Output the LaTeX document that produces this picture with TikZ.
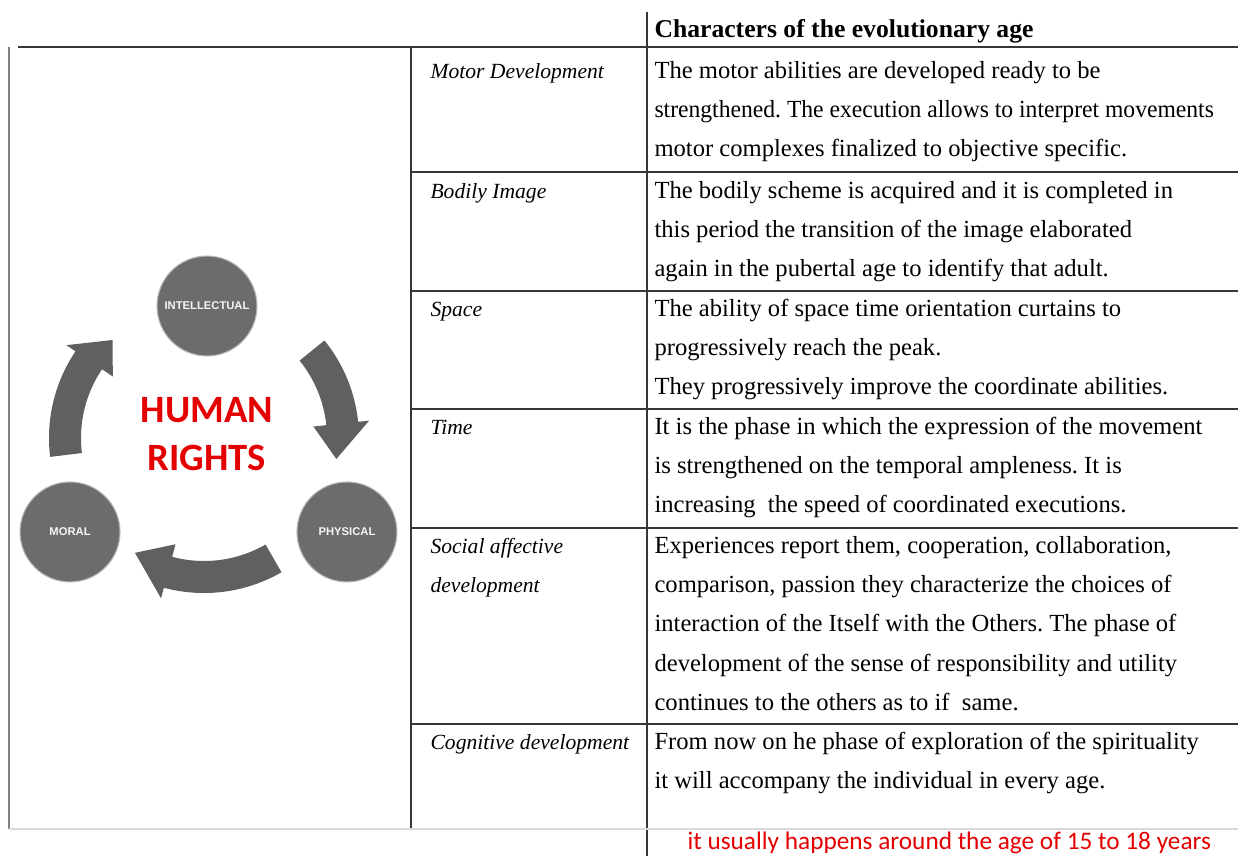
\documentclass[tikz,border=0pt]{standalone}
\usepackage{fontspec}
\setmainfont{Liberation Serif}
\newfontfamily\calibrifont{Carlito}
\newfontfamily\arialfont{Liberation Sans}
\usepackage{xcolor}
\usepackage{tikz}

\definecolor{rulegray}{RGB}{55,55,55}
\definecolor{ringgray}{RGB}{108,108,108}
\definecolor{arrowgray}{RGB}{96,96,96}
\definecolor{hrred}{RGB}{228,0,0}

\begin{document}
\frenchspacing
\begin{tikzpicture}[x=0.02cm, y=-0.02cm, node distance=4.52cm, semithick]
\tikzstyle{rule}=[draw=rulegray, line width=0.8pt]
\tikzstyle{ring}=[circle, fill=ringgray, draw=gray!55, line width=0.6pt,
                  minimum size=2cm, inner sep=0pt, text=white!92!gray,
                  font=\arialfont\bfseries\fontsize{6.4}{7}\selectfont]
\tikzstyle{cell}=[anchor=north west, inner sep=0pt, align=left,
                  font=\fontsize{14}{22.4}\selectfont]
\tikzstyle{topic}=[cell, font=\itshape\fontsize{12.3}{22.4}\selectfont]
  \useasboundingbox (0,0) rectangle (1248,856);
  \fill[white] (0,0) rectangle (1248,856);
  %
  % table rules
  \draw[rule] (18,47) -- (1238,47);
  \foreach \yy in {172,291,409,528,724}
    \draw[rule] (411,\yy) -- (1238,\yy);
  \draw[rule] (411,47) -- (411,829);
  \draw[rule] (647,12) -- (647,856);
  \draw[gray, line width=1.3pt] (9,47) -- (9,829);
  \draw[gray!30, line width=0.8pt] (9,829) -- (1238,829);
  %
  % header
  \node[anchor=base west, inner sep=0pt, font=\bfseries\fontsize{14.6}{16}\selectfont]
       (head) at (654,37) {Characters of the evolutionary age};
  %
  % rows (north = baseline - 27.5)
  \node[topic] (motor) at (430,50) {\strut Motor Development};
  \node[cell] (motortxt) at (654,50) {\strut The motor abilities are developed ready to be\\
     \scalebox{0.96}[1]{strengthened. The execution allows to interpret movements}\\
     motor complexes finalized to objective specific.};
  %
  \node[topic] (bodily) at (430,170) {\strut Bodily Image};
  \node[cell] (bodilytxt) at (654,170) {\strut The bodily scheme is acquired and it is completed in\\
     this period the transition of the image elaborated\\
     again in the pubertal age to identify that adult.};
  %
  \node[topic] (space) at (430,288) {\strut Space};
  \node[cell] (spacetxt) at (654,288) {\strut The ability of space time orientation curtains to\\
     progressively reach the peak.\\
     They progressively improve the coordinate abilities.};
  %
  \node[topic] (time) at (430,406) {\strut Time};
  \node[cell] (timetxt) at (654,406) {\strut It is the phase in which the expression of the movement\\
     is strengthened on the temporal ampleness. It is\\
     increasing\ \ the speed of coordinated executions.};
  %
  \node[topic] (social) at (430,525) {\strut Social affective\\ development};
  \node[cell] (socialtxt) at (654,525) {\strut Experiences report them, cooperation, collaboration,\\
     comparison, passion they characterize the choices of\\
     interaction of the Itself with the Others. The phase of\\
     development of the sense of responsibility and utility\\
     continues to the others as to if\ \ same.};
  %
  \node[topic] (cogn) at (430,721) {\strut Cognitive development};
  \node[cell] (cogntxt) at (654,721) {\strut From now on he phase of exploration of the spirituality\\
     it will accompany the individual in every age.};
  %
  \node[anchor=base west, inner sep=0pt, text=hrred,
        font=\calibrifont\fontsize{14.4}{16}\selectfont]
       (note) at (687,849) {it usually happens around the age of 15 to 18 years};
  %
  % cycle
  \node[ring] (intel) at (207,306) {INTELLECTUAL};
  \node[ring] (phys) [below of=intel, xshift=2.8cm] {PHYSICAL};
  \node[ring] (moral) [below of=intel, xshift=-2.74cm] {MORAL};
  \node[align=center, text=hrred,
        font=\calibrifont\bfseries\fontsize{22}{27.2}\selectfont]
       (hr) at (207,434) {HUMAN\\RIGHTS};
  %
  \begin{scope}[shift={(204,438)}, yscale=-1]
    \fill[arrowgray] (39:155) arc[start angle=39, end angle=6, radius=155]
      -- (6:166) -- (-9:134) -- (6:110) -- (6:123)
      arc[start angle=6, end angle=39, radius=123] -- cycle;
    \fill[arrowgray] (-60:155) arc[start angle=-60, end angle=-105, radius=155]
      -- (-105:166) -- (-121:134) -- (-105:110) -- (-105:123)
      arc[start angle=-105, end angle=-60, radius=123] -- cycle;
    \fill[arrowgray] (187:155) arc[start angle=187, end angle=146, radius=155]
      -- (146:166) -- (133:134) -- (146:110) -- (146:123)
      arc[start angle=146, end angle=187, radius=123] -- cycle;
  \end{scope}
\end{tikzpicture}
\end{document}
